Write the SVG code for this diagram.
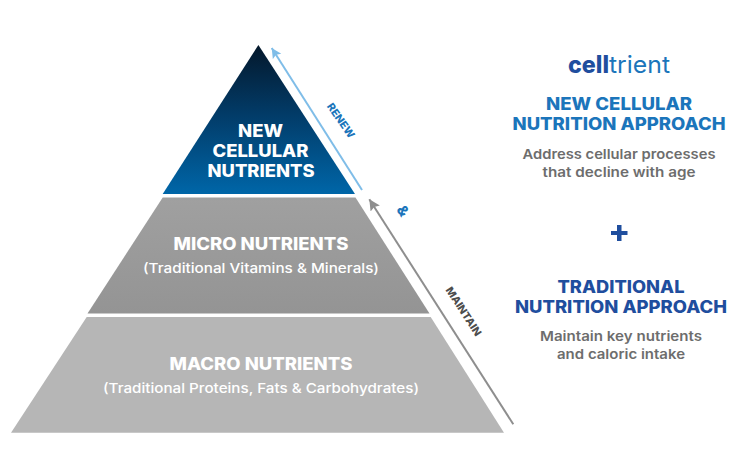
<svg xmlns="http://www.w3.org/2000/svg" width="750" height="476" viewBox="0 0 750 476">
<style>
text{font-family:"Inter","Noto Sans",sans-serif;text-anchor:middle}
.h{font-weight:800;fill:#fff;font-size:17px}
.s{font-weight:500;fill:#fff;font-size:13.5px}
.b1{font-weight:800;fill:#1b75bb;font-size:17px}
.b2{font-weight:800;fill:#1f4e9e;font-size:17px}
.g{font-weight:600;fill:#6d6d6d;font-size:13.5px}
.r{font-weight:800;font-size:10.5px}
.l{text-anchor:start;font-size:24px}
</style>
<defs>
<linearGradient id="top" x1="0" y1="0" x2="0" y2="1"><stop offset="0" stop-color="#04182b"/><stop offset=".45" stop-color="#023a66"/><stop offset="1" stop-color="#0066a8"/></linearGradient>
<linearGradient id="mid" x1="0" y1="0" x2="0" y2="1"><stop offset="0" stop-color="#a0a0a0"/><stop offset="1" stop-color="#949494"/></linearGradient>
<marker id="ab" markerUnits="userSpaceOnUse" markerWidth="12" markerHeight="12" refX="10" refY="5" orient="auto"><path d="M0 0L10 5L0 10L2 5Z" fill="#7fbde8"/></marker>
<marker id="ag" markerUnits="userSpaceOnUse" markerWidth="14" markerHeight="12" refX="11" refY="5.500" orient="auto"><path d="M0 0L11 5.500L0 11L2 5.500Z" fill="#8e8e8e"/></marker>
</defs>
<g id="node-top">
<path d="M258.400 45L355 194H162.700Z" fill="url(#top)"/>
<text class="h" x="260.500" y="136.500" textLength="45" lengthAdjust="spacingAndGlyphs">NEW</text>
<text class="h" x="260.500" y="156.500" textLength="96" lengthAdjust="spacingAndGlyphs">CELLULAR</text>
<text class="h" x="261" y="176.500" textLength="107" lengthAdjust="spacingAndGlyphs">NUTRIENTS</text>
</g>
<g id="node-micro">
<path d="M162.700 197.500H355.500L429.500 313.500H87.500Z" fill="url(#mid)"/>
<text class="h" x="261" y="250" textLength="175" lengthAdjust="spacingAndGlyphs">MICRO NUTRIENTS</text>
<text class="s" x="261" y="272.500" textLength="236" lengthAdjust="spacingAndGlyphs">(Traditional Vitamins &amp; Minerals)</text>
</g>
<g id="node-macro">
<path d="M86.700 317H430.700L504 432.700H11Z" fill="#b6b6b6"/>
<text class="h" x="261" y="369.500" textLength="183" lengthAdjust="spacingAndGlyphs">MACRO NUTRIENTS</text>
<text class="s" x="261" y="392.500" textLength="316" lengthAdjust="spacingAndGlyphs">(Traditional Proteins, Fats &amp; Carbohydrates)</text>
</g>
<g id="connectors">
<line x1="362" y1="190" x2="271.700" y2="48" stroke="#7fbde8" stroke-width="2" marker-end="url(#ab)"/>
<line x1="513.300" y1="424.300" x2="369.300" y2="199.300" stroke="#8e8e8e" stroke-width="2" marker-end="url(#ag)"/>
</g>
<g id="label-renew"><text class="r" transform="translate(341 120.500) rotate(55)" y="3.800" fill="#1b75bb" textLength="40" lengthAdjust="spacingAndGlyphs">RENEW</text></g>
<g id="label-and"><text transform="translate(403 211) rotate(57)" y="5" font-size="14.500" font-weight="800" fill="#1b75bb">&amp;</text></g>
<g id="label-maintain"><text class="r" transform="translate(463.500 311.500) rotate(57)" y="3.500" fill="#4d4d4d" textLength="56" lengthAdjust="spacingAndGlyphs">MAINTAIN</text></g>
<g id="logo">
<text class="l" x="568" y="72.500" font-weight="800" fill="#1f4e9e" textLength="41" lengthAdjust="spacingAndGlyphs">cell</text>
<text class="l" x="609" y="72.500" font-weight="400" fill="#1b75bb" textLength="61" lengthAdjust="spacingAndGlyphs">trient</text>
</g>
<g id="new-approach">
<text class="b1" x="619" y="109.500" textLength="146" lengthAdjust="spacingAndGlyphs">NEW CELLULAR</text>
<text class="b1" x="619" y="129.500" textLength="213" lengthAdjust="spacingAndGlyphs">NUTRITION APPROACH</text>
<text class="g" x="619" y="158.500" textLength="193" lengthAdjust="spacingAndGlyphs">Address cellular processes</text>
<text class="g" x="619" y="176.500" textLength="153" lengthAdjust="spacingAndGlyphs">that decline with age</text>
</g>
<g id="plus"><path d="M617 225H621.500V231H627.500V235H621.500V241H617V235H611V231H617Z" fill="#1f4e9e"/></g>
<g id="traditional-approach">
<text class="b2" x="621" y="292.500" textLength="127" lengthAdjust="spacingAndGlyphs">TRADITIONAL</text>
<text class="b2" x="621" y="312.500" textLength="212" lengthAdjust="spacingAndGlyphs">NUTRITION APPROACH</text>
<text class="g" x="621" y="340.500" textLength="162" lengthAdjust="spacingAndGlyphs">Maintain key nutrients</text>
<text class="g" x="621" y="358.500" textLength="128" lengthAdjust="spacingAndGlyphs">and caloric intake</text>
</g>
</svg>
